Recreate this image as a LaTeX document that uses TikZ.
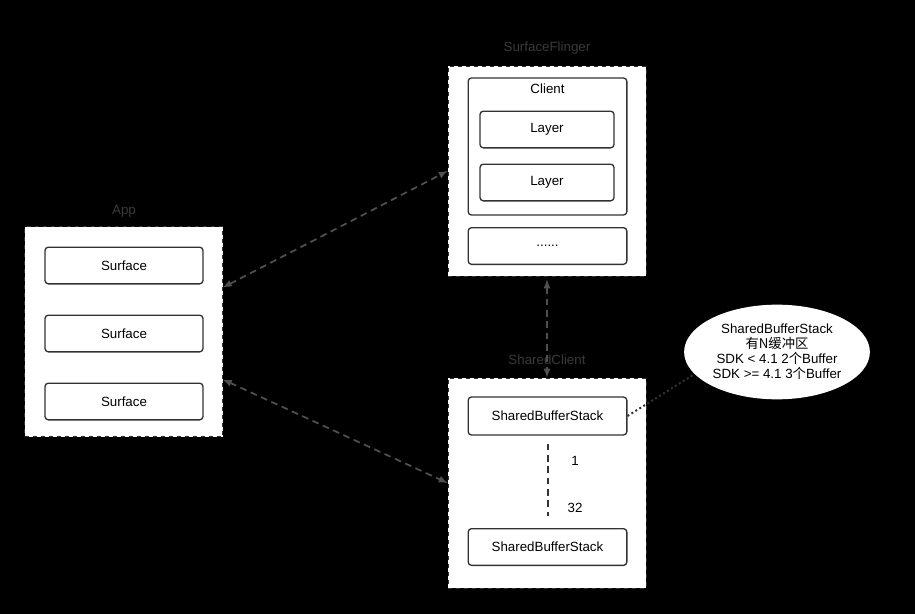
\documentclass[tikz,border=0pt]{standalone}
\usepackage{fontspec}
\setmainfont{Liberation Sans}
\newfontfamily\cjk{Noto Sans CJK SC}
\usepackage{tikz}
\usetikzlibrary{arrows,calc,shapes.geometric}

\definecolor{boxline}{HTML}{333333}
\definecolor{arrowgray}{HTML}{505050}
\definecolor{titlegray}{HTML}{3A3A3A}

\begin{document}
\begin{tikzpicture}[%
            x=0.75pt,
            y=-0.75pt,
            font=\fontsize{10}{12}\selectfont,
            group/.style={
                draw=boxline,
                dashed,
                fill=white,
                line width=0.5pt,
                minimum width=148.5pt,
                minimum height=157.5pt,
            },
            item/.style={
                draw=boxline,
                fill=white,
                rounded corners=2.5pt,
                line width=1pt,
                minimum width=#1,
                minimum height=27.5pt,
            },
            item/.default=118.5pt,
            grouptitle/.style={
                text=titlegray,
            },
            link/.style={
                draw=arrowgray,
                line width=1.3pt,
                dash pattern=on 5pt off 3.5pt,
                latex-latex,
            },
        ]
        % background
        \fill[black] (0,0) rectangle (915,614);
        \useasboundingbox (0,0) rectangle (915,614);

        % App
        \node[group] (app) at (123.5,331.5) {};
        \node[grouptitle] (appTitle) at (124,211) {App};
        \node[item] (surface1) at (124,265.5) {Surface};
        \node[item] (surface2) at (124,333.5) {Surface};
        \node[item] (surface3) at (124,401.5) {Surface};

        % SurfaceFlinger
        \node[group] (sf) at (547,171) {};
        \node[grouptitle] (sfTitle) at (547,48) {SurfaceFlinger};
        \node[item=119pt, minimum height=102.75pt] (client) at (547.5,146.5) {};
        \node (clientTitle) at (547.5,88.5) {Client};
        \node[item=100.5pt] (layer1) at (547,129.5) {Layer};
        \node[item=100.5pt] (layer2) at (547,182.5) {Layer};
        \node[item=119pt] (more) at (547.5,246) {......};

        % SharedClient
        \node[group] (sc) at (547,483) {};
        \node[grouptitle] (scTitle) at (547,360) {SharedClient};
        \node[item=119pt, minimum height=28.5pt] (stack1) at (547.5,416) {SharedBufferStack};
        \node[item=119pt] (stack2) at (547.5,547) {SharedBufferStack};
        \node (one) at (575,461) {1};
        \node (many) at (575,508) {32};

        % note
        \node[ellipse, fill=white, minimum width=131pt, minimum height=71pt, align=center,
              inner sep=1pt, font=\fontsize{10}{11.3}\selectfont] (note) at (777,352)
            {SharedBufferStack\\{\cjk 有N缓冲区}\\SDK < 4.1 2{\cjk 个}Buffer\\SDK >= 4.1 3{\cjk 个}Buffer};

        % connectors
        \draw[link] ($(app.east)+(0,-44)$) -- (sf.west);
        \draw[link] ($(app.east)+(0,48)$) -- (sc.west);
        \draw[link] ($(sf.south)+(0,3)$) -- (sc.north);
        \draw[draw=boxline, line width=1.5pt, dash pattern=on 5pt off 3.5pt]
            ($(stack1.south)+(0,8)$) -- ($(stack2.north)+(0,-12)$);
        \draw[draw=boxline, line width=1.5pt, dotted] (stack1.east) -- (note.195);
\end{tikzpicture}
\end{document}
